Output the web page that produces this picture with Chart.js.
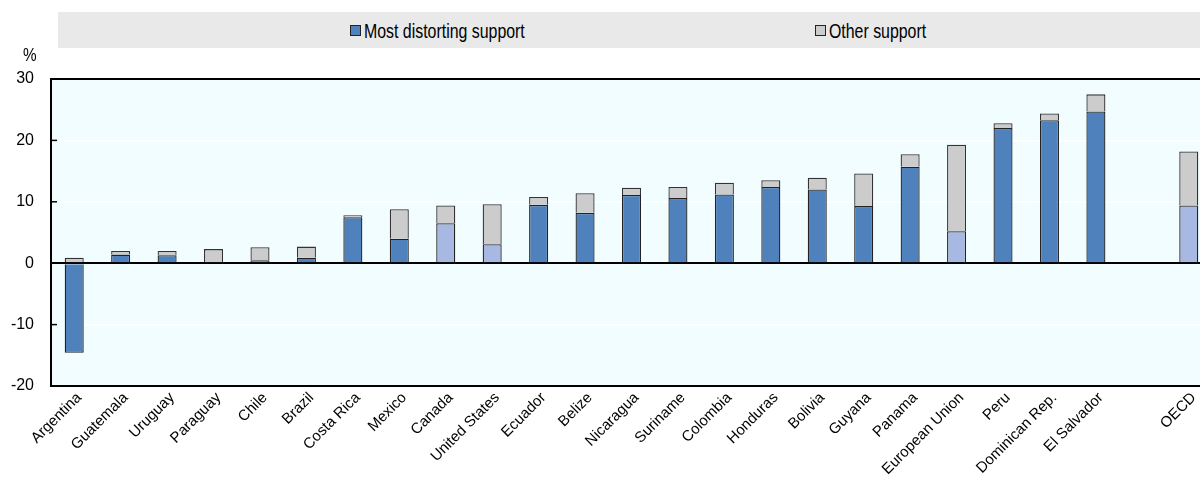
<!DOCTYPE html>
<html>
<head>
<meta charset="utf-8">
<script src="https://cdn.jsdelivr.net/npm/chart.js@4/dist/chart.umd.min.js"></script>
<style>
  html, body { margin: 0; padding: 0; background: #fff; overflow: hidden; }
  #wrap { position: relative; width: 1200px; height: 484px; overflow: hidden; font-family: "Liberation Sans", Arial, sans-serif; }
  #chart-box { position: absolute; left: 0; top: 0; width: 1212px; height: 484px; }
  #legend { position: absolute; left: 58px; top: 12px; width: 1142px; height: 36px; background: #e9e9e9; }
  .box { position: absolute; top: 13px; width: 9px; height: 9px; border: 1px solid #222; }
  .txt { position: absolute; top: 8px; font-size: 19.5px; line-height: 22px; color: #000; white-space: nowrap;
         transform: scaleX(0.815); transform-origin: 0 0; }
  #pct { position: absolute; left: 23px; top: 45px; font-size: 18px; color: #000; transform: scaleX(0.85); transform-origin: 0 0; }
</style>
</head>
<body>
<div id="wrap">
  <div id="chart-box"><canvas id="chart" width="1212" height="484"></canvas></div>
  <div id="legend">
    <div class="box" style="left:292px;background:#4f81bd"></div>
    <div class="txt" style="left:306px">Most distorting support</div>
    <div class="box" style="left:757px;background:#cccccc"></div>
    <div class="txt" style="left:771px">Other support</div>
  </div>
  <div id="pct">%</div>
</div>
<script>
// data
const countries = ['Argentina', 'Guatemala', 'Uruguay', 'Paraguay', 'Chile', 'Brazil', 'Costa Rica',
  'Mexico', 'Canada', 'United States', 'Ecuador', 'Belize', 'Nicaragua', 'Suriname', 'Colombia',
  'Honduras', 'Bolivia', 'Guyana', 'Panama', 'European Union', 'Peru', 'Dominican Rep.', 'El Salvador',
  '', 'OECD'];
const mostDistorting = [-14.6, 1.4, 1.3, 0.0, 0.5, 0.9, 7.5, 4.0, 6.5, 3.1, 9.5, 8.2, 11.1, 10.6, 11.2,
  12.4, 12.0, 9.3, 15.7, 5.2, 22.0, 23.3, 24.7, null, 9.4];
const otherSupport = [0.9, 0.6, 0.7, 2.3, 2.1, 1.8, 0.3, 4.8, 2.9, 6.5, 1.3, 3.2, 1.2, 1.8, 1.9,
  1.1, 1.9, 5.3, 2.05, 14.1, 0.8, 1.1, 2.8, null, 8.8];
// Canada, United States, European Union and OECD drawn in the lighter blue
const lightBars = ['Canada', 'United States', 'European Union', 'OECD'];
const yTicks = [-20, -10, 0, 10, 20, 30];

const darkBlue = '#4f81bd';
const lightBlue = '#a7b9e3';
const grey = '#cccccc';
const fontFam = "'Liberation Sans', Arial, sans-serif";

// light background of the plot area + short inward tick marks on the y axis
const plotBg = {
  id: 'plotBg',
  beforeDraw(chart) {
    const { ctx, chartArea: a } = chart;
    ctx.save();
    ctx.fillStyle = '#f2fdff';
    ctx.fillRect(a.left, a.top, a.right - a.left, a.bottom - a.top);
    ctx.restore();
  },
  afterDraw(chart) {
    const { ctx, chartArea: a, scales } = chart;
    ctx.save();
    ctx.strokeStyle = '#000';
    ctx.lineWidth = 1.5;
    yTicks.forEach(v => {
      const y = scales.y.getPixelForValue(v);
      ctx.beginPath();
      ctx.moveTo(a.left, y);
      ctx.lineTo(a.left + 6, y);
      ctx.stroke();
    });
    ctx.restore();
  }
};

new Chart(document.getElementById('chart'), {
  type: 'bar',
  data: {
    labels: countries,
    datasets: [
      {
        label: 'Most distorting support',
        data: mostDistorting,
        backgroundColor: countries.map(c => lightBars.includes(c) ? lightBlue : darkBlue),
        borderColor: '#222',
        borderWidth: 1.3,
        categoryPercentage: 1,
        barPercentage: 0.41
      },
      {
        label: 'Other support',
        data: otherSupport,
        backgroundColor: grey,
        borderColor: '#333',
        borderWidth: 1.3,
        categoryPercentage: 1,
        barPercentage: 0.41
      }
    ]
  },
  options: {
    responsive: false,
    animation: false,
    layout: { padding: { top: 79, right: 0, bottom: 0, left: 0 } },
    plugins: {
      legend: { display: false },
      tooltip: { enabled: false }
    },
    scales: {
      x: {
        stacked: true,
        grid: { display: false, drawTicks: false },
        border: { color: '#000', width: 2 },
        ticks: {
          color: '#000',
          font: { family: fontFam, size: 15 },
          minRotation: 45,
          maxRotation: 45,
          autoSkip: false,
          labelOffset: 5,
          padding: 3
        },
        afterFit(scale) { scale.height = 98; }
      },
      y: {
        stacked: true,
        min: -20,
        max: 30,
        afterBuildTicks(scale) { scale.ticks = yTicks.map(v => ({ value: v })); },
        grid: {
          color: ctx => (ctx.tick && (ctx.tick.value === 0 || ctx.tick.value === 30)) ? '#000' : '#ffffff',
          lineWidth: ctx => (ctx.tick && (ctx.tick.value === 0 || ctx.tick.value === 30)) ? 2 : 1.5,
          drawTicks: false
        },
        border: { color: '#000', width: 2 },
        ticks: {
          color: '#000',
          font: { family: fontFam, size: 16 },
          padding: 17
        },
        afterFit(scale) { scale.width = 51; }
      }
    }
  },
  plugins: [plotBg]
});
</script>
</body>
</html>
